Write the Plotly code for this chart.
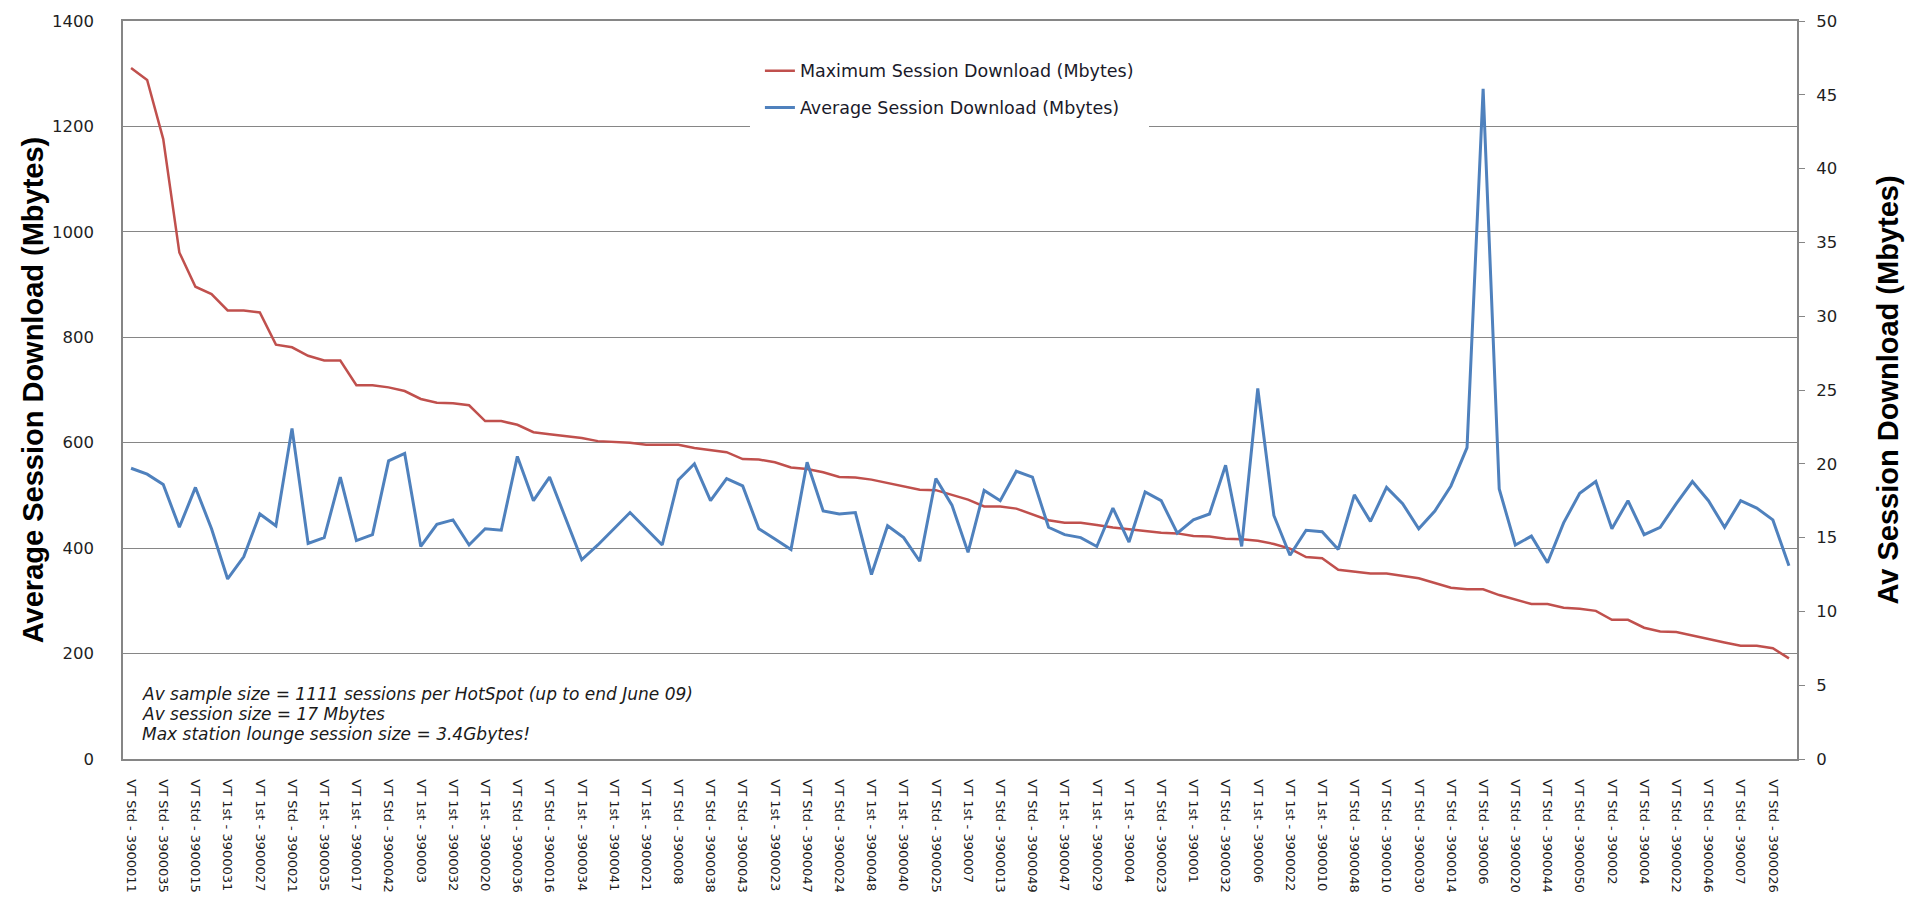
import plotly.graph_objects as go

# Maximum session download per HotSpot (Mbytes) - left axis
max_download = [
    1311, 1288, 1176, 961, 896, 882, 851, 851, 847, 786,
    781, 765, 756, 756, 709, 709, 705, 698, 683, 676,
    675, 671, 641, 641, 634, 620, 616, 612, 609, 603,
    602, 600, 596, 596, 596, 590, 586, 582, 569, 568,
    563, 553, 550, 544, 535, 534, 530, 524, 518, 511,
    510, 501, 492, 479, 479, 475, 464, 453, 448, 448,
    444, 439, 436, 432, 429, 428, 423, 422, 418, 417,
    414, 408, 399, 383, 381, 359, 355, 352, 352, 348,
    343, 334, 325, 322, 322, 311, 303, 294, 294, 287,
    285, 281, 264, 264, 249, 242, 241, 234, 227, 221,
    215, 215, 210, 191,
]

# Average session download per HotSpot (Mbytes) - right axis
avg_download = [
    19.7, 19.3, 18.6, 15.7, 18.4, 15.6, 12.2, 13.7, 16.6, 15.8,
    22.4, 14.6, 15.0, 19.1, 14.8, 15.2, 20.2, 20.7, 14.4, 15.9,
    16.2, 14.5, 15.6, 15.5, 20.5, 17.5, 19.1, 16.3, 13.5, 14.5,
    15.6, 16.7, 15.6, 14.5, 18.9, 20.0, 17.5, 19.0, 18.5, 15.6,
    14.9, 14.2, 20.1, 16.8, 16.6, 16.7, 12.5, 15.8, 15.0, 13.4,
    19.0, 17.2, 14.0, 18.2, 17.5, 19.5, 19.1, 15.7, 15.2, 15.0,
    14.4, 17.0, 14.7, 18.1, 17.5, 15.3, 16.2, 16.6, 19.9, 14.4,
    25.1, 16.5, 13.8, 15.5, 15.4, 14.2, 17.9, 16.1, 18.4, 17.3,
    15.6, 16.8, 18.5, 21.1, 45.4, 18.3, 14.5, 15.1, 13.3, 16.0,
    18.0, 18.8, 15.6, 17.5, 15.2, 15.7, 17.3, 18.8, 17.5, 15.7,
    17.5, 17.0, 16.2, 13.1,
]

# Visible category labels (every second HotSpot is labelled)
tick_labels = [
    "VT Std - 3900011", "VT Std - 3900035", "VT Std - 3900015", "VT 1st - 3900031",
    "VT 1st - 3900027", "VT Std - 3900021", "VT 1st - 3900035", "VT 1st - 3900017",
    "VT Std - 3900042", "VT 1st - 390003", "VT 1st - 3900032", "VT 1st - 3900020",
    "VT Std - 3900036", "VT Std - 3900016", "VT 1st - 3900034", "VT 1st - 3900041",
    "VT 1st - 3900021", "VT Std - 390008", "VT Std - 3900038", "VT Std - 3900043",
    "VT 1st - 3900023", "VT Std - 3900047", "VT Std - 3900024", "VT 1st - 3900048",
    "VT 1st - 3900040", "VT Std - 3900025", "VT 1st - 390007", "VT Std - 3900013",
    "VT Std - 3900049", "VT 1st - 3900047", "VT 1st - 3900029", "VT 1st - 390004",
    "VT Std - 3900023", "VT 1st - 390001", "VT Std - 3900032", "VT 1st - 390006",
    "VT 1st - 3900022", "VT 1st - 3900010", "VT Std - 3900048", "VT Std - 3900010",
    "VT Std - 3900030", "VT Std - 3900014", "VT Std - 390006", "VT Std - 3900020",
    "VT Std - 3900044", "VT Std - 3900050", "VT Std - 390002", "VT Std - 390004",
    "VT Std - 3900022", "VT Std - 3900046", "VT Std - 390007", "VT Std - 3900026",
]

notes = [
    "Av sample size = 1111 sessions per HotSpot (up to end June 09)",
    "Av session size = 17 Mbytes",
    "Max station lounge session size = 3.4Gbytes!",
]
note_y = [0.088, 0.061, 0.034]

idx = list(range(len(max_download)))
tickvals = idx[::2]

GRID = "#868686"
TICKFONT = dict(family="DejaVu Sans", size=16.5, color="#1f1f1f")
TITLEFONT = dict(family="Liberation Sans", size=29, color="#000000")

fig = go.Figure()
fig.add_trace(go.Scatter(
    x=idx, y=max_download, mode="lines",
    name="Maximum Session Download (Mbytes)",
    line=dict(color="#C0504D", width=2.5),
    legendgroup="max",
))
fig.add_trace(go.Scatter(
    x=idx, y=avg_download, mode="lines", yaxis="y2",
    name="Average Session Download (Mbytes)",
    line=dict(color="#4F81BD", width=3),
    legendgroup="avg",
))

fig.update_layout(
    width=1905, height=906,
    margin=dict(l=123, r=108, t=21, b=147, autoexpand=False),
    paper_bgcolor="white", plot_bgcolor="white",
    showlegend=True,
    legend=dict(
        x=0.3745, y=0.9705, xanchor="left", yanchor="top",
        bgcolor="white", bordercolor="white", borderwidth=10,
        font=dict(family="DejaVu Sans", size=17.5, color="#1a1a2a"),
        tracegroupgap=11, traceorder="grouped",
    ),
    xaxis=dict(
        range=[-0.5, len(idx) - 0.5],
        tickmode="array", tickvals=tickvals, ticktext=tick_labels,
        tickangle=90, ticks="", ticklabelstandoff=16,
        tickfont=dict(family="DejaVu Sans", size=13, color="#1a1a1a"),
        showgrid=False, zeroline=False,
        showline=True, linecolor=GRID, linewidth=1.5, mirror=True,
        automargin=False,
    ),
    yaxis=dict(
        range=[0, 1400], dtick=200, tick0=0,
        showgrid=True, gridcolor=GRID, gridwidth=1,
        zeroline=False, showline=True, linecolor=GRID, linewidth=1.5,
        ticks="", ticklabelstandoff=24,
        tickfont=TICKFONT,
        title=dict(text="<b>Average Session Download (Mbytes)</b>", font=TITLEFONT, standoff=0),
        automargin=False,
    ),
    yaxis2=dict(
        range=[0, 50], dtick=5, tick0=0,
        overlaying="y", side="right",
        showgrid=False, zeroline=False,
        showline=True, linecolor=GRID, linewidth=2,
        ticks="outside", ticklen=6, tickcolor=GRID, tickwidth=1,
        ticklabelstandoff=8,
        tickfont=TICKFONT,
        title=dict(text="<b>Av Session Download (Mbytes)</b>", font=TITLEFONT, standoff=41),
        automargin=False,
    ),
    annotations=[
        dict(
            xref="paper", yref="paper", x=0.010, y=yy,
            xanchor="left", yanchor="middle", align="left", showarrow=False,
            text="<i>" + t + "</i>",
            font=dict(family="DejaVu Sans", size=17, color="#1a1a1a"),
        )
        for t, yy in zip(notes, note_y)
    ],
)

fig.write_html(
    "out.html",
    config={"displayModeBar": False},
    post_script="document.body.style.margin='0';document.body.style.overflow='hidden';",
)
